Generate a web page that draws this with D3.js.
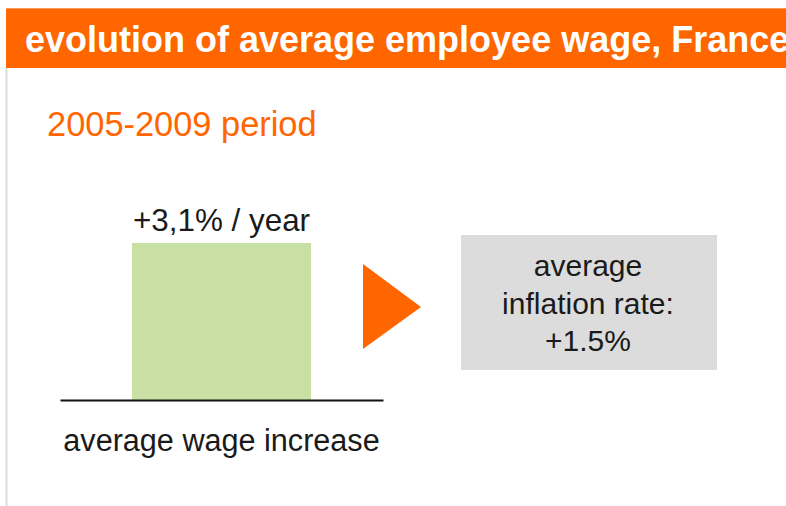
<!DOCTYPE html>
<html>
<head>
<meta charset="utf-8">
<script src="https://cdn.jsdelivr.net/npm/d3@7"></script>
<style>
  html, body { margin: 0; padding: 0; background: #fff; }
  svg { display: block; }
  text { font-family: "Liberation Sans", Arial, Helvetica, sans-serif; }
</style>
</head>
<body>
<svg id="chart" width="786" height="506"></svg>
<script>
// Headline texts
const title = "evolution of average employee wage, France";
const subtitle = "2005-2009 period";

// Wage growth bar (percent per year)
const categories = ["average wage increase"];
const wageGrowth = [3.1];
const wageLabels = ["+3,1% / year"];

// Inflation comparison box
const inflationRate = [1.5];
const inflationLines = ["average", "inflation rate:", "+" + d3.format(".1f")(inflationRate[0]) + "%"];

const orange = "#ff6600";
const svg = d3.select("#chart");

// Header band
svg.append("rect")
  .attr("x", 6).attr("y", 8).attr("width", 800).attr("height", 60)
  .attr("fill", orange);
svg.append("line")
  .attr("x1", 6).attr("x2", 800).attr("y1", 8.5).attr("y2", 8.5)
  .attr("stroke", "#ff9a5c").attr("stroke-width", 1);
svg.append("text")
  .attr("x", 25).attr("y", 52)
  .attr("fill", "#fff")
  .attr("font-size", 36).attr("font-weight", "bold")
  .text(title);

// Left rule under the header
svg.append("line")
  .attr("x1", 6.5).attr("x2", 6.5).attr("y1", 68).attr("y2", 506)
  .attr("stroke", "#dcdcdc").attr("stroke-width", 2);

// Subtitle
svg.append("text")
  .attr("x", 47).attr("y", 136)
  .attr("fill", orange)
  .attr("font-size", 34.4)
  .text(subtitle);

// Bar chart scales
const x = d3.scaleBand().domain(categories).range([60, 383]).paddingInner(0).paddingOuter(0.402);
const y = d3.scaleLinear().domain([0, 3.1]).range([400, 243]);

const g = svg.append("g");
g.selectAll("rect.bar")
  .data(wageGrowth)
  .join("rect")
  .attr("class", "bar")
  .attr("x", (d, i) => x(categories[i]))
  .attr("width", x.bandwidth())
  .attr("y", d => y(d))
  .attr("height", d => y(0) - y(d))
  .attr("fill", "#c8e0a3");

g.selectAll("text.val")
  .data(wageGrowth)
  .join("text")
  .attr("class", "val")
  .attr("x", (d, i) => x(categories[i]) + x.bandwidth() / 2)
  .attr("y", d => y(d) - 12.5)
  .attr("text-anchor", "middle")
  .attr("fill", "#1a1a1a")
  .attr("font-size", 31.4)
  .text((d, i) => wageLabels[i]);

// Baseline axis with the category label
const axis = svg.append("g")
  .attr("transform", `translate(0,${y(0)})`)
  .call(d3.axisBottom(x).tickSize(0).tickSizeOuter(0).tickPadding(29));
axis.select(".domain").attr("stroke", "#111").attr("stroke-width", 2);
axis.selectAll(".tick text")
  .attr("font-family", "Liberation Sans, Arial, sans-serif")
  .attr("font-size", 30.6)
  .attr("fill", "#1a1a1a");

// Arrow pointing to the inflation box
svg.append("path")
  .attr("d", d3.line()([[363, 264], [421, 307], [363, 349]]) + "Z")
  .attr("fill", orange);

// Inflation box
svg.append("rect")
  .attr("x", 461).attr("y", 235).attr("width", 256).attr("height", 135)
  .attr("fill", "#dcdcdc");
svg.append("text")
  .attr("text-anchor", "middle")
  .attr("fill", "#1a1a1a")
  .attr("font-size", 30)
  .selectAll("tspan")
  .data(inflationLines)
  .join("tspan")
  .attr("x", 588)
  .attr("y", (d, i) => 276 + i * 37.5)
  .text(d => d);
</script>
</body>
</html>
